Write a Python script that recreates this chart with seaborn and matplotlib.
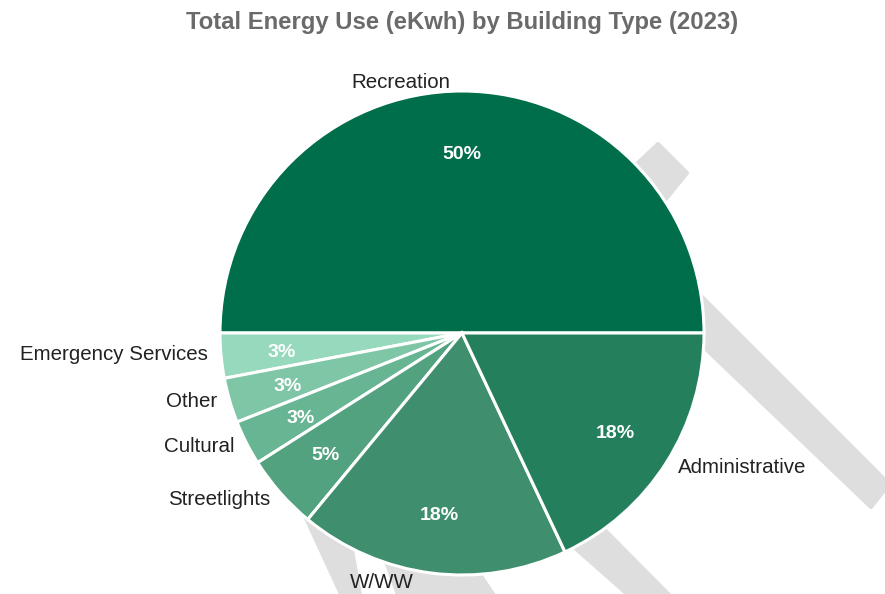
import matplotlib
matplotlib.use('Agg')
import matplotlib.pyplot as plt
from matplotlib.patches import Polygon
import seaborn as sns

sns.set_theme(style='white')
plt.rcParams['font.family'] = ['Liberation Sans', 'DejaVu Sans']

# data
building_types = ['Recreation', 'Emergency Services', 'Other', 'Cultural',
                  'Streetlights', 'W/WW', 'Administrative']
energy_share = [50, 3, 3, 3, 5, 18, 18]
slice_colors = ['#006e4b', '#97d9bc', '#7ec6a6', '#67b593',
                '#52a27f', '#3f8f6e', '#237f5c']

W, H = 885, 594
fig = plt.figure(figsize=(W / 100, H / 100), dpi=100)

# grey background strokes (decoration behind the pie), pixel coordinates
bg = fig.add_axes([0, 0, 1, 1])
bg.set_xlim(0, W)
bg.set_ylim(H, 0)
bg.axis('off')
grey = '#dedede'
shapes = [
    [(638, 163), (658, 144), (687, 173), (665, 200)],
    [(660, 255), (889, 484), (871, 507), (660, 305)],
    [(540, 517), (570, 495), (681, 607), (642, 607)],
    [(300, 505), (347, 607), (362, 607), (352, 550), (335, 500)],
    [(380, 545), (460, 545), (497, 600), (400, 600)],
]
for pts in shapes:
    bg.add_patch(Polygon(pts, closed=True, facecolor=grey, edgecolor=grey,
                         linewidth=3, joinstyle='round'))

# pie axes: center (462, 333), radius 242 px
cx, cy, r = 462, 333, 242
lim = 1.05
ax = fig.add_axes([(cx - r * lim) / W, (H - cy - r * lim) / H,
                   2 * r * lim / W, 2 * r * lim / H])
wedges, texts, autotexts = ax.pie(
    energy_share, labels=building_types, colors=slice_colors,
    startangle=0, counterclock=True,
    autopct=lambda p: f'{p:.0f}%', pctdistance=0.75, labeldistance=1.055,
    wedgeprops=dict(edgecolor='white', linewidth=2.2),
    textprops=dict(color='#222222', fontsize=14.8))
ax.set_xlim(-lim, lim)
ax.set_ylim(-lim, lim)
ax.set_aspect('auto')
ax.axis('off')

for t in autotexts:
    t.set_color('white')
    t.set_fontsize(14)
    t.set_fontweight('bold')
    x, y = t.get_position()
    t.set_position((x, y - 0.012))

for t in texts:
    x, y = t.get_position()
    t.set_position((x, y + 0.01))
texts[0].set_position((-0.252, 1.037))
texts[0].set_ha('center')
texts[5].set_position((-0.331, -1.03))
texts[5].set_ha('center')

fig.text(462 / W, 1 - 23 / H, 'Total Energy Use (eKwh) by Building Type (2023)',
         ha='center', va='center', fontsize=17.2, fontweight='bold',
         color='#6a6a6a')

fig.savefig('out.png', dpi=100, facecolor='white')
